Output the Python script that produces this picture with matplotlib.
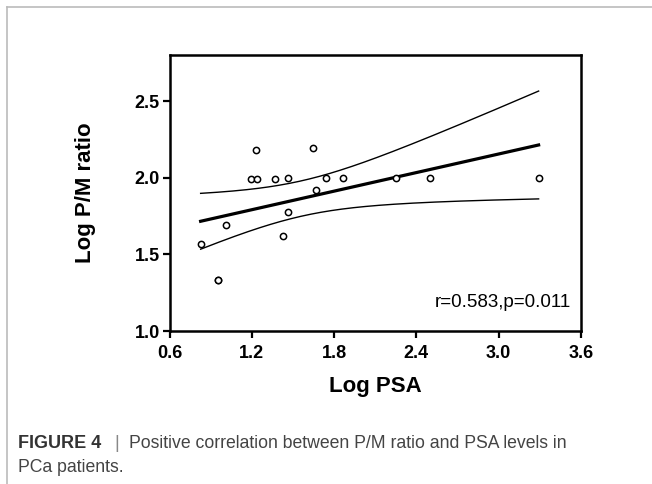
import numpy as np
import matplotlib
matplotlib.use('Agg')
from matplotlib import pyplot as plt
from matplotlib.lines import Line2D

# data (n=18: one point hidden under (0.956, 1.332))
log_psa = [0.827, 0.956, 0.956, 1.014, 1.192, 1.228, 1.240, 1.369, 1.425,
           1.461, 1.466, 1.646, 1.670, 1.741, 1.862, 2.251, 2.501, 3.291]
log_pm = [1.566, 1.332, 1.332, 1.693, 1.989, 2.180, 1.989, 1.989, 1.618,
          1.996, 1.773, 2.195, 1.917, 1.996, 1.996, 1.996, 1.996, 1.996]
x_ticks = [0.6, 1.2, 1.8, 2.4, 3.0, 3.6]
y_ticks = [1.0, 1.5, 2.0, 2.5]
stats_text = "r=0.583,p=0.011"
t_crit = 2.120  # t(0.975, df=16)

plt.rcParams['font.family'] = ['Liberation Sans', 'DejaVu Sans']

x = np.array(log_psa)
y = np.array(log_pm)
n = len(x)
slope, intercept = np.polyfit(x, y, 1)
xs = np.linspace(x.min(), x.max(), 200)
fit = slope * xs + intercept
resid = y - (slope * x + intercept)
s = np.sqrt(np.sum(resid ** 2) / (n - 2))
se = s * np.sqrt(1.0 / n + (xs - x.mean()) ** 2 / np.sum((x - x.mean()) ** 2))
upper = fit + t_crit * se
lower = fit - t_crit * se

fig = plt.figure(figsize=(6.52, 4.84), dpi=100)
ax = fig.add_axes([169.5 / 652, 1 - 331 / 484, (581 - 169.5) / 652, (331 - 55) / 484])

ax.plot(xs, fit, color='black', lw=2.3)
ax.plot(xs, upper, color='black', lw=1.0)
ax.plot(xs, lower, color='black', lw=1.0)
ax.plot(x, y, 'o', mfc='white', mec='black', ms=4.5, mew=1.1, ls='none')

ax.set_xlim(0.6, 3.6)
ax.set_ylim(1.0, 2.8)
ax.set_xticks(x_ticks)
ax.set_yticks(y_ticks)
ax.set_xticklabels(['%.1f' % v for v in x_ticks], fontsize=13, fontweight='bold')
ax.set_yticklabels(['%.1f' % v for v in y_ticks], fontsize=13, fontweight='bold')
ax.tick_params(direction='out', length=5, width=1.6)
ax.tick_params(axis='x', pad=5)
ax.tick_params(axis='y', pad=2)
for sp in ax.spines.values():
    sp.set_linewidth(1.8)

ax.set_xlabel('Log PSA', fontsize=16, fontweight='bold', labelpad=10)
ax.set_ylabel('Log P/M ratio', fontsize=16, fontweight='bold', labelpad=28)
ax.text(0.975, 0.105, stats_text, transform=ax.transAxes, ha='right', va='center',
        fontsize=13.5)

# page border of the screenshot
fig.add_artist(Line2D([7 / 652, 1], [1 - 7 / 484, 1 - 7 / 484], color='#bbbbbb', lw=1.2))
fig.add_artist(Line2D([7 / 652, 7 / 652], [0, 1 - 7 / 484], color='#bbbbbb', lw=1.2))

fig.text(18 / 652, 1 - 443 / 484, 'FIGURE 4', fontsize=13, fontweight='bold',
         color='#333333', va='center')
fig.text(114 / 652, 1 - 443 / 484, '|', fontsize=13, color='#888888', va='center')
fig.text(129 / 652, 1 - 443 / 484, 'Positive correlation between P/M ratio and PSA levels in',
         fontsize=12.7, color='#444444', va='center')
fig.text(18 / 652, 1 - 468 / 484, 'PCa patients.', fontsize=12.7, color='#444444', va='center')

fig.savefig('out.png', dpi=100)
